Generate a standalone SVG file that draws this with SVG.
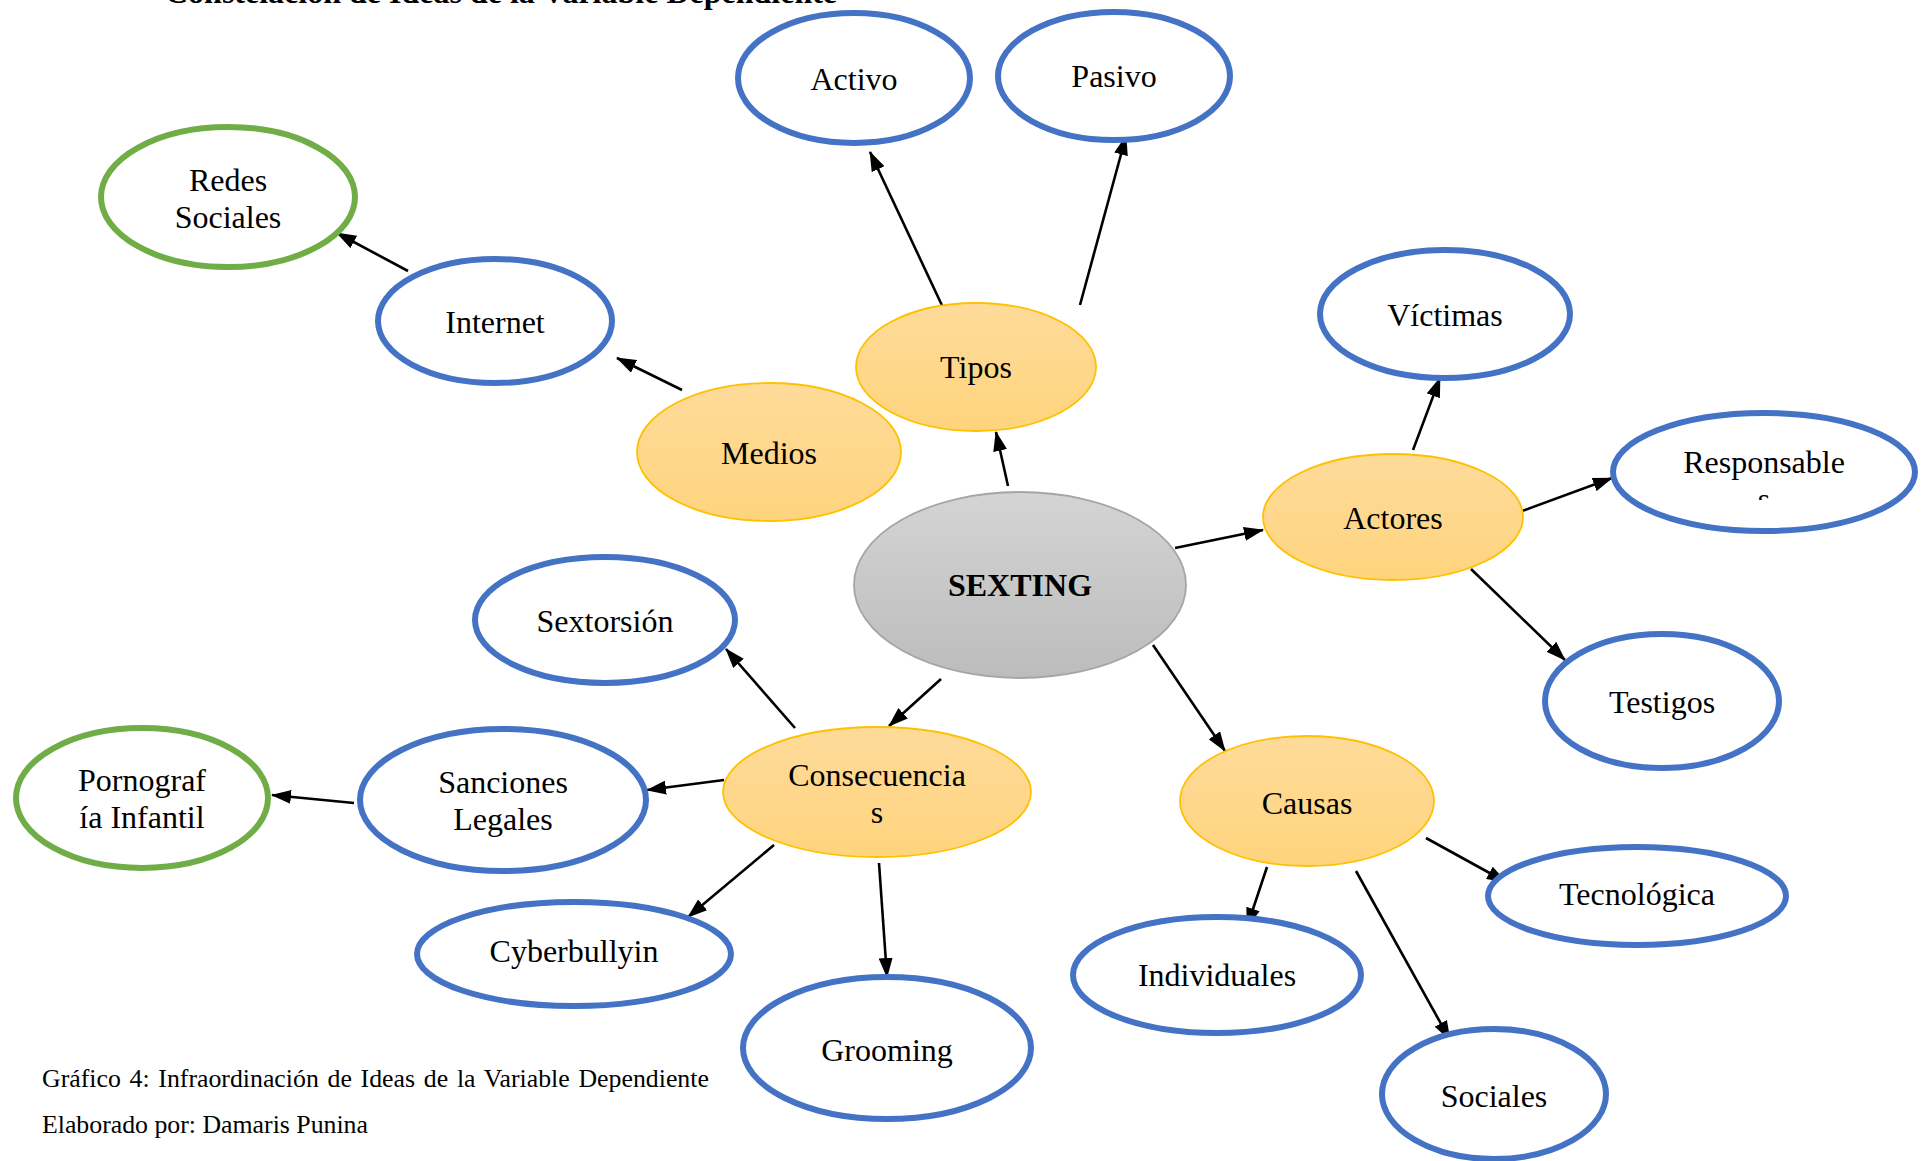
<svg xmlns="http://www.w3.org/2000/svg" width="1923" height="1161" viewBox="0 0 1923 1161">
<style>
text{font-family:"Liberation Serif","Times New Roman",serif;font-size:32px;fill:#000;text-anchor:middle}
.title{font-weight:bold;text-anchor:start}
.cap{font-size:25.8px;text-anchor:start}
.blue{fill:#fff;stroke:#4472C4;stroke-width:6}
.green{fill:#fff;stroke:#70AD47;stroke-width:6}
.gold{fill:url(#gGold);stroke:#FFC000;stroke-width:1.8}
.gray{fill:url(#gGray);stroke:#A5A5A5;stroke-width:1.8}
.edge{stroke:#000;stroke-width:2.6;fill:none;marker-end:url(#arr)}
</style>
<defs>
<linearGradient id="gGold" x1="0" y1="0" x2="0" y2="1">
<stop offset="0" stop-color="#FEDB9B"/>
<stop offset="1" stop-color="#FFD47D"/>
</linearGradient>
<linearGradient id="gGray" x1="0" y1="0" x2="0" y2="1">
<stop offset="0" stop-color="#D4D4D4"/>
<stop offset="1" stop-color="#BCBCBC"/>
</linearGradient>
<marker id="arr" viewBox="0 0 20 14" refX="19" refY="7" markerWidth="20" markerHeight="14" markerUnits="userSpaceOnUse" orient="auto">
<path d="M0,0 L20,7 L0,14 Z" fill="#000"/>
</marker>
<clipPath id="clipResp"><rect x="1600" y="400" width="320" height="100"/></clipPath>
</defs>

<text class="title" x="165" y="3">Constelación de Ideas de la Variable Dependiente</text>

<g id="connectors">
<line class="edge" x1="1008" y1="486" x2="996" y2="432"/>
<line class="edge" x1="946" y1="314" x2="870" y2="152"/>
<line class="edge" x1="1080" y1="305" x2="1126" y2="136"/>
<line class="edge" x1="682" y1="390" x2="617" y2="358"/>
<line class="edge" x1="408" y1="271" x2="337" y2="233"/>
<line class="edge" x1="1175" y1="548" x2="1263" y2="530"/>
<line class="edge" x1="1413" y1="450" x2="1440" y2="378"/>
<line class="edge" x1="1522" y1="511" x2="1612" y2="478"/>
<line class="edge" x1="1471" y1="569" x2="1565" y2="660"/>
<line class="edge" x1="1153" y1="645" x2="1225" y2="751"/>
<line class="edge" x1="941" y1="679" x2="889" y2="726"/>
<line class="edge" x1="795" y1="728" x2="726" y2="649"/>
<line class="edge" x1="724" y1="780" x2="647" y2="790"/>
<line class="edge" x1="354" y1="803" x2="272" y2="795"/>
<line class="edge" x1="774" y1="845" x2="688" y2="917"/>
<line class="edge" x1="879" y1="863" x2="887" y2="977"/>
<line class="edge" x1="1426" y1="838" x2="1506" y2="882"/>
<line class="edge" x1="1267" y1="867" x2="1247" y2="927"/>
<line class="edge" x1="1356" y1="871" x2="1450" y2="1040"/>
</g>

<g id="n-activo"><ellipse class="blue" cx="854" cy="78" rx="116" ry="65"/><text x="854" y="90">Activo</text></g>
<g id="n-pasivo"><ellipse class="blue" cx="1114" cy="76" rx="116" ry="64"/><text x="1114" y="87">Pasivo</text></g>
<g id="n-redes"><ellipse class="green" cx="228" cy="197" rx="127" ry="70"/><text x="228" y="191">Redes</text><text x="228" y="228">Sociales</text></g>
<g id="n-internet"><ellipse class="blue" cx="495" cy="321" rx="117" ry="62"/><text x="495" y="333">Internet</text></g>
<g id="n-tipos"><ellipse class="gold" cx="976" cy="367" rx="120" ry="64"/><text x="976" y="378">Tipos</text></g>
<g id="n-medios"><ellipse class="gold" cx="769" cy="452" rx="132" ry="69"/><text x="769" y="464">Medios</text></g>
<g id="n-victimas"><ellipse class="blue" cx="1445" cy="314" rx="125" ry="64"/><text x="1445" y="326">Víctimas</text></g>
<g id="n-responsables"><ellipse class="blue" cx="1764" cy="472" rx="151" ry="59"/><text x="1764" y="473">Responsable</text><text x="1764" y="510" clip-path="url(#clipResp)">s</text></g>
<g id="n-actores"><ellipse class="gold" cx="1393" cy="517" rx="130" ry="63"/><text x="1393" y="529">Actores</text></g>
<g id="n-sexting"><ellipse class="gray" cx="1020" cy="585" rx="166" ry="93"/><text x="1020" y="596" font-weight="bold">SEXTING</text></g>
<g id="n-sextorsion"><ellipse class="blue" cx="605" cy="620" rx="130" ry="63"/><text x="605" y="632">Sextorsión</text></g>
<g id="n-testigos"><ellipse class="blue" cx="1662" cy="701" rx="117" ry="67"/><text x="1662" y="713">Testigos</text></g>
<g id="n-pornografia"><ellipse class="green" cx="142" cy="798" rx="126" ry="70"/><text x="142" y="791">Pornograf</text><text x="142" y="828">ía Infantil</text></g>
<g id="n-sanciones"><ellipse class="blue" cx="503" cy="800" rx="143" ry="71"/><text x="503" y="793">Sanciones</text><text x="503" y="830">Legales</text></g>
<g id="n-consecuencias"><ellipse class="gold" cx="877" cy="792" rx="154" ry="65"/><text x="877" y="786">Consecuencia</text><text x="877" y="823">s</text></g>
<g id="n-causas"><ellipse class="gold" cx="1307" cy="801" rx="127" ry="65"/><text x="1307" y="814">Causas</text></g>
<g id="n-tecnologica"><ellipse class="blue" cx="1637" cy="896" rx="149" ry="49"/><text x="1637" y="905">Tecnológica</text></g>
<g id="n-cyberbullyin"><ellipse class="blue" cx="574" cy="954" rx="157" ry="52"/><text x="574" y="962">Cyberbullyin</text></g>
<g id="n-individuales"><ellipse class="blue" cx="1217" cy="975" rx="144" ry="58"/><text x="1217" y="986">Individuales</text></g>
<g id="n-grooming"><ellipse class="blue" cx="887" cy="1048" rx="144" ry="71"/><text x="887" y="1061">Grooming</text></g>
<g id="n-sociales"><ellipse class="blue" cx="1494" cy="1094" rx="112" ry="65"/><text x="1494" y="1107">Sociales</text></g>

<text class="cap" x="42" y="1087" word-spacing="2.3">Gráfico 4: Infraordinación de Ideas de la Variable Dependiente</text>
<text class="cap" x="42" y="1133">Elaborado por: Damaris Punina</text>
</svg>
